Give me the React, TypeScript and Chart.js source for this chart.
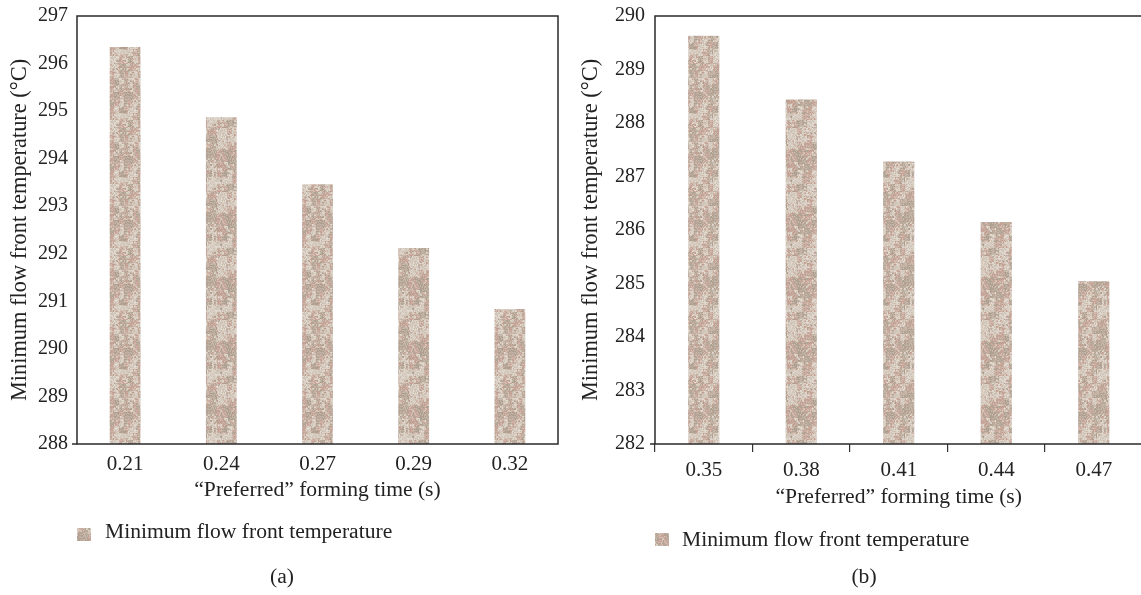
import React, { useEffect, useRef } from 'react';
import { Chart, registerables } from 'chart.js';

Chart.register(...registerables);

// ---- data ----
const seriesName = 'Minimum flow front temperature';
const xTitle = '\u201CPreferred\u201D forming time (s)';
const yTitle = 'Minimum flow front temperature (\u00B0C)';

const labelsA = ['0.21', '0.24', '0.27', '0.29', '0.32'];
const valuesA = [296.35, 294.87, 293.46, 292.12, 290.84];
const yRangeA = [288, 297];

const labelsB = ['0.35', '0.38', '0.41', '0.44', '0.47'];
const valuesB = [289.63, 288.44, 287.28, 286.15, 285.04];
const yRangeB = [282, 290];

const FONT = "'Liberation Serif', 'Times New Roman', serif";

// deterministic granite-like texture
function makePattern(ctx: CanvasRenderingContext2D): CanvasPattern | string {
  const size = 64;
  const c = document.createElement('canvas');
  c.width = size;
  c.height = size;
  const g = c.getContext('2d');
  if (!g) return '#c5b3a8';
  const hash = (x: number, y: number, k: number) => {
    let h = (x * 374761393 + y * 668265263 + k * 1442695041) | 0;
    h = Math.imul(h ^ (h >>> 13), 1274126177);
    h = h ^ (h >>> 16);
    return ((h >>> 0) % 10000) / 10000;
  };
  const groups = [
    ['#c9aca0', '#c3a396', '#d0b6aa', '#bfa093', '#d6c0b4'],
    ['#dbd1c6', '#e2dad0', '#d1c5b8', '#d8cdc1', '#cbbdaf'],
    ['#b9a99b', '#b2a293', '#c0b1a3', '#c7b9ab', '#ac9d8f'],
  ];
  for (let y = 0; y < size; y++) {
    for (let x = 0; x < size; x++) {
      const cx = Math.floor(x / 5) % 13;
      const cy = Math.floor(y / 7) % 10;
      const coarse = hash(cx, cy, 7);
      let gi = coarse < 0.4 ? 0 : coarse < 0.75 ? 1 : 2;
      const bx = Math.floor(x / 2);
      const by = Math.floor(y / 2);
      if (hash(bx, by, 3) < 0.3) gi = Math.floor(hash(bx, by, 5) * 3);
      const grp = groups[gi];
      g.fillStyle = grp[Math.floor(hash(x, y, 11) * grp.length)];
      g.fillRect(x, y, 1, 1);
    }
  }
  return ctx.createPattern(c, 'repeat') || '#c5b3a8';
}

type PanelProps = {
  labels: string[];
  values: number[];
  yRange: number[];
  left: number;
  width: number;
  yAxisWidth: number;
  padRight: number;
  xAxisHeight: number;
  xTickPadding: number;
  showXTicks: boolean;
  yTickPadding: number;
  yTitlePadTop: number;
  legendBoxX: number;
  legendBoxY: number;
  legendTextX: number;
  legendBaseline: number;
  caption: string;
  captionX: number;
  captionBaseline: number;
};

function Panel(p: PanelProps) {
  const ref = useRef<HTMLCanvasElement | null>(null);

  useEffect(() => {
    const canvas = ref.current;
    if (!canvas) return;
    const ctx = canvas.getContext('2d');
    if (!ctx) return;
    const pattern = makePattern(ctx);
    const H = 595;
    const chartBottom = 444;

    const decor = {
      id: 'decor',
      afterDatasetsDraw(chart: any) {
        const { ctx: c, chartArea: a } = chart;
        c.save();
        c.strokeStyle = '#2a2a2a';
        c.lineWidth = 1.5;
        c.strokeRect(a.left, a.top, a.right - a.left, a.bottom - a.top);
        c.beginPath();
        c.moveTo(a.left - 5, a.bottom);
        c.lineTo(a.left, a.bottom);
        c.stroke();
        c.restore();
      },
      afterDraw(chart: any) {
        const c = chart.ctx as CanvasRenderingContext2D;
        c.save();
        c.fillStyle = pattern as any;
        c.fillRect(p.legendBoxX, p.legendBoxY, 14, 13);
        c.fillStyle = '#222';
        c.font = `21.6px ${FONT}`;
        c.textBaseline = 'alphabetic';
        c.textAlign = 'left';
        c.fillText(seriesName, p.legendTextX, p.legendBaseline);
        c.textAlign = 'center';
        c.fillText(p.caption, p.captionX, p.captionBaseline);
        c.restore();
      },
    };

    const chart = new Chart(ctx, {
      type: 'bar',
      data: {
        labels: p.labels,
        datasets: [
          {
            label: seriesName,
            data: p.values,
            backgroundColor: pattern as any,
            borderWidth: 0,
            categoryPercentage: 1,
            barPercentage: 0.32,
          },
        ],
      },
      options: {
        responsive: false,
        animation: false,
        devicePixelRatio: 1,
        layout: {
          padding: {
            left: 0,
            top: 16,
            right: p.padRight,
            bottom: H - chartBottom - p.xAxisHeight,
          },
        },
        plugins: {
          legend: { display: false },
          tooltip: { enabled: false },
        },
        scales: {
          x: {
            grid: {
              display: p.showXTicks,
              drawOnChartArea: false,
              drawTicks: p.showXTicks,
              tickLength: 8,
              color: '#333',
              lineWidth: 1.2,
            },
            border: { display: false },
            ticks: {
              font: { family: FONT, size: 21 },
              color: '#222',
              padding: p.xTickPadding,
            },
            title: {
              display: true,
              text: xTitle,
              font: { family: FONT, size: 21.6 },
              color: '#222',
              padding: 0,
            },
            afterFit(s: any) {
              s.height = p.xAxisHeight;
              s.paddingLeft = 0;
              s.paddingRight = 0;
            },
          },
          y: {
            min: p.yRange[0],
            max: p.yRange[1],
            grid: { display: false, drawTicks: false },
            border: { display: false },
            ticks: {
              stepSize: 1,
              font: { family: FONT, size: 20 },
              color: '#222',
              padding: p.yTickPadding,
            },
            title: {
              display: true,
              text: yTitle,
              font: { family: FONT, size: 22.4 },
              color: '#222',
              padding: { top: p.yTitlePadTop, bottom: 0 },
            },
            afterFit(s: any) {
              s.width = p.yAxisWidth;
              s.paddingTop = 0;
              s.paddingBottom = 0;
            },
          },
        },
      } as any,
      plugins: [decor as any],
    });

    return () => chart.destroy();
  }, []);

  return (
    <canvas
      ref={ref}
      width={p.width}
      height={595}
      style={{ position: 'absolute', left: p.left, top: 0, width: p.width, height: 595 }}
    />
  );
}

export default function App() {
  return (
    <div
      style={{
        position: 'fixed',
        left: 0,
        top: 0,
        width: 1141,
        height: 595,
        overflow: 'hidden',
        background: '#fff',
      }}
    >
      <Panel
        labels={labelsA}
        values={valuesA}
        yRange={yRangeA}
        left={0}
        width={570}
        yAxisWidth={77}
        padRight={12}
        xAxisHeight={59}
        xTickPadding={8}
        showXTicks={false}
        yTickPadding={9}
        yTitlePadTop={6.5}
        legendBoxX={77}
        legendBoxY={528}
        legendTextX={105}
        legendBaseline={538}
        caption="(a)"
        captionX={282}
        captionBaseline={583}
      />
      <Panel
        labels={labelsB}
        values={valuesB}
        yRange={yRangeB}
        left={570}
        width={590}
        yAxisWidth={85}
        padRight={17.5}
        xAxisHeight={66}
        xTickPadding={6}
        showXTicks={true}
        yTickPadding={10}
        yTitlePadTop={7.5}
        legendBoxX={85}
        legendBoxY={533}
        legendTextX={112}
        legendBaseline={546}
        caption="(b)"
        captionX={294}
        captionBaseline={583}
      />
    </div>
  );
}
